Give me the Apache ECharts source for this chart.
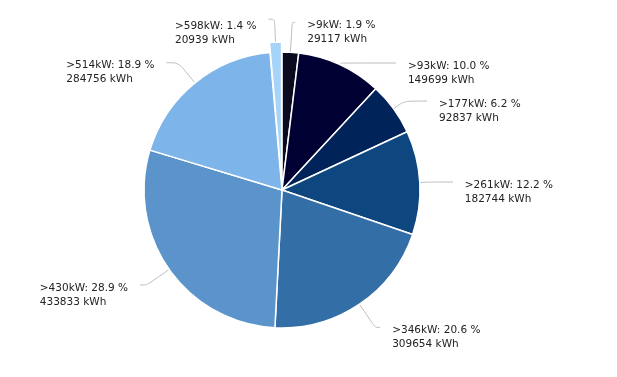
<!DOCTYPE html>
<html>
<head>
    <meta charset="utf-8" />
    <title>Pie</title>
    <script src="https://cdn.jsdelivr.net/npm/echarts@6/dist/echarts.min.js"></script>
    <style type="text/css">
        html, body { margin: 0; padding: 0; background: #fff; }
        #chart { width: 617px; height: 377px; }
    </style>
</head>
<body>
    <div id="chart"></div>
    <script>
        // categories and values (kWh)
        var categories = ['>9kW', '>93kW', '>177kW', '>261kW', '>346kW', '>430kW', '>514kW', '>598kW'];
        var energy = [29117, 149699, 92837, 182744, 309654, 433833, 284756, 20939];

        // styling per slice
        var colors = ['#0b0b20', '#000033', '#00235a', '#0e4780', '#336ea7', '#5a94cb', '#7db4ea', '#a6d3f8'];
        var lineLen = [30, 2, 13, 10, 28, 27, 26, 23];
        var lineLen2 = [3, 55, 23, 23, 5, 7, 12, 6];

        var total = energy.reduce(function (a, b) { return a + b; }, 0);

        var chart = echarts.init(document.getElementById('chart'));

        var data = categories.map(function (name, i) {
            return {
                name: name,
                value: energy[i],
                selected: i === categories.length - 1,
                itemStyle: { color: colors[i] },
                labelLine: { length: lineLen[i], length2: lineLen2[i] }
            };
        });

        chart.setOption({
            animation: false,
            series: [{
                type: 'pie',
                center: [282, 190],
                radius: 138,
                startAngle: 90,
                clockwise: true,
                selectedMode: 'single',
                selectedOffset: 10,
                data: data,
                itemStyle: {
                    borderColor: '#fff',
                    borderWidth: 1.5
                },
                label: {
                    color: '#222',
                    fontFamily: 'DejaVu Sans',
                    fontSize: 10.5,
                    lineHeight: 14,
                    padding: [0, 7, 0, 7],
                    formatter: function (p) {
                        var pct = (p.value / total * 100).toFixed(1);
                        return '{t|' + p.name + ': ' + pct + ' %}\n{t|' + p.value + ' kWh}';
                    },
                    rich: {
                        t: {
                            align: 'left',
                            color: '#222',
                            fontFamily: 'DejaVu Sans',
                            fontSize: 10.5,
                            lineHeight: 14
                        }
                    }
                },
                labelLine: {
                    show: true,
                    smooth: 0.3,
                    lineStyle: { color: '#bbb', width: 1 }
                },
                // first text line sits just below the end of the connector
                labelLayout: function (params) {
                    var r = params.labelRect;
                    if (!params.labelLinePoints) return {};
                    return {
                        y: r.y + r.height / 2 - 4,
                        verticalAlign: 'top',
                        labelLinePoints: params.labelLinePoints
                    };
                },
                emphasis: { scale: false }
            }]
        });
    </script>
</body>
</html>
